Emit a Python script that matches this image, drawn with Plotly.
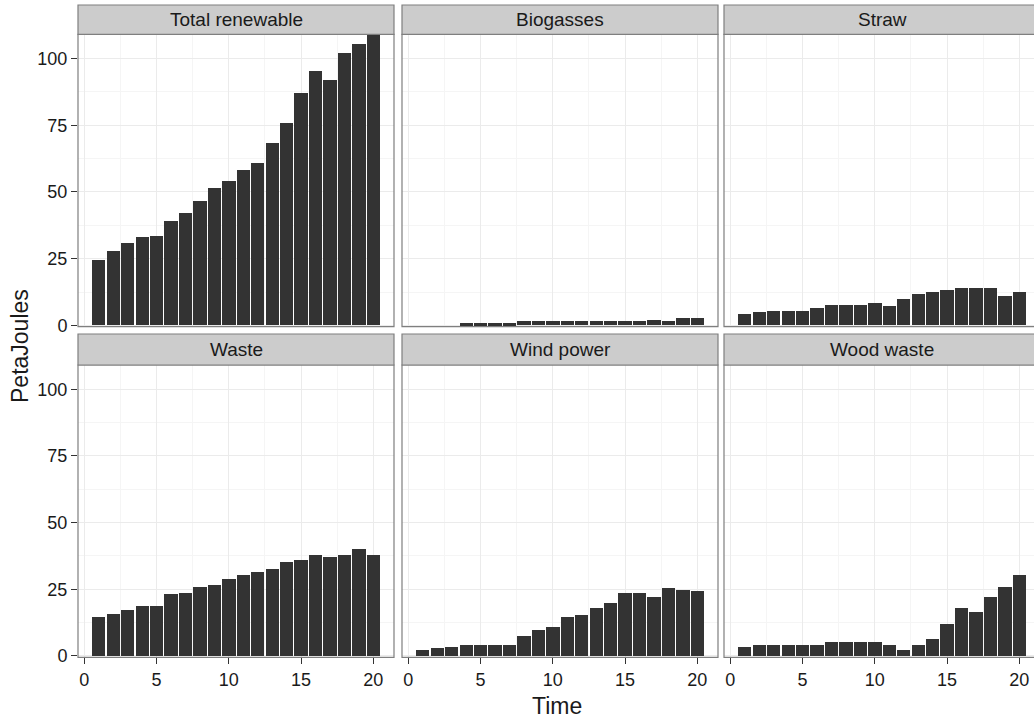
import plotly.graph_objects as go

W, H = 1034, 725

time = list(range(1, 21))
facets = ["Total renewable", "Biogasses", "Straw", "Waste", "Wind power", "Wood waste"]

total_renewable = [24.5, 27.9, 30.8, 33.1, 33.5, 39.1, 42.0, 46.4, 51.5, 54.1,
                   58.3, 60.9, 68.4, 75.9, 86.8, 95.1, 91.8, 101.8, 105.5, 108.6]
biogasses_time = list(range(4, 21))
biogasses = [0.6, 0.6, 0.6, 0.6, 1.4, 1.4, 1.4, 1.4, 1.4, 1.4, 1.4, 1.4, 1.4,
             1.75, 1.4, 2.75, 2.75]
straw = [4.0, 4.75, 5.1, 5.1, 5.1, 6.25, 7.4, 7.4, 7.4, 8.1,
         7.0, 9.6, 11.5, 12.25, 13.0, 13.75, 13.75, 13.75, 10.75, 12.25]
waste = [14.8, 15.8, 17.4, 18.9, 18.9, 23.4, 23.6, 26.0, 26.7, 29.0,
         30.5, 31.6, 32.7, 35.3, 36.0, 37.9, 37.2, 37.9, 40.2, 37.9]
wind_power = [2.1, 2.85, 3.35, 4.0, 4.0, 4.3, 4.3, 7.4, 9.9, 11.0,
              14.7, 15.5, 17.8, 19.9, 23.6, 23.6, 22.2, 25.5, 24.9, 24.4]
wood_waste = [3.2, 4.0, 4.3, 4.3, 4.3, 4.3, 5.1, 5.1, 5.3, 5.1,
              4.3, 2.1, 4.3, 6.2, 12.1, 17.8, 16.6, 22.2, 25.9, 30.3]

series_x = [time, biogasses_time, time, time, time, time]
series_y = [total_renewable, biogasses, straw, waste, wind_power, wood_waste]

x_ticks = [0, 5, 10, 15, 20]
y_ticks = [0, 25, 50, 75, 100]

# layout in screen pixels
col_px = [(78, 394), (402, 718), (724, 1034)]
row_px = [(34.3, 326.7), (365, 657.3)]      # panel top/bottom (from top)
strip_px = [(5, 34.3), (334, 365)]
px_per_unit = 14.45


def px(xs):
    return xs / W


def py(ys):
    return 1 - ys / H


BORDER = "#7F7F7F"
FONT = "Liberation Sans, Arial, sans-serif"
TXT = "#1a1a1a"

fig = go.Figure()
shapes = []
annotations = []

for i, name in enumerate(facets):
    r, c = divmod(i, 3)
    n = i + 1
    xa = "x" if n == 1 else f"x{n}"
    ya = "y" if n == 1 else f"y{n}"
    fig.add_trace(go.Bar(
        x=series_x[i], y=series_y[i], width=0.92,
        marker=dict(color="#333333", line=dict(width=0)),
        xaxis=xa, yaxis=ya, showlegend=False,
    ))
    x0, x1 = col_px[c]
    top, bot = row_px[r]
    xmin = -0.44
    xmax = xmin + (x1 - x0) / px_per_unit
    xkey = "xaxis" if n == 1 else f"xaxis{n}"
    ykey = "yaxis" if n == 1 else f"yaxis{n}"
    bottom_row = r == 1
    first_col = c == 0
    fig.layout[xkey] = dict(
        domain=[px(x0), px(x1)], anchor=ya, range=[xmin, xmax], automargin=False,
        tickvals=x_ticks, showgrid=True, gridcolor="#EBEBEB", gridwidth=1,
        minor=dict(dtick=2.5, tick0=0, showgrid=True, gridcolor="#F5F5F5", gridwidth=1),
        zeroline=False, showline=False,
        showticklabels=bottom_row, ticks="outside" if bottom_row else "",
        ticklen=6, tickcolor="#333333", tickwidth=1,
        tickfont=dict(family=FONT, size=18, color=TXT),
    )
    fig.layout[ykey] = dict(
        domain=[py(bot), py(top)], anchor=xa, range=[-0.5, 109.1], automargin=False,
        tickvals=y_ticks, showgrid=True, gridcolor="#EBEBEB", gridwidth=1,
        minor=dict(dtick=12.5, tick0=0, showgrid=True, gridcolor="#F5F5F5", gridwidth=1),
        zeroline=False, showline=False,
        showticklabels=first_col, ticks="outside" if first_col else "",
        ticklen=6, tickcolor="#333333", tickwidth=1,
        tickfont=dict(family=FONT, size=18, color=TXT),
    )
    # panel border
    shapes.append(dict(type="rect", xref="paper", yref="paper",
                       x0=px(x0), x1=px(x1 + (6 if c == 2 else 0)), y0=py(bot), y1=py(top),
                       line=dict(color=BORDER, width=1.2), fillcolor="rgba(0,0,0,0)",
                       layer="above"))
    # strip
    s0, s1 = strip_px[r]
    shapes.append(dict(type="rect", xref="paper", yref="paper",
                       x0=px(x0), x1=px(x1 + (6 if c == 2 else 0)), y0=py(s1), y1=py(s0),
                       line=dict(color=BORDER, width=1.2), fillcolor="#CCCCCC",
                       layer="above"))
    full_x1 = x0 + 316
    annotations.append(dict(xref="paper", yref="paper",
                            x=px((x0 + full_x1) / 2), y=py((s0 + s1) / 2),
                            text=name, showarrow=False, xanchor="center", yanchor="middle",
                            font=dict(family=FONT, size=19, color=TXT)))

annotations.append(dict(xref="paper", yref="paper", x=px(20), y=py(346),
                        text="PetaJoules", textangle=-90, showarrow=False,
                        xanchor="center", yanchor="middle",
                        font=dict(family=FONT, size=23, color=TXT)))
annotations.append(dict(xref="paper", yref="paper", x=px(557), y=py(706),
                        text="Time", showarrow=False,
                        xanchor="center", yanchor="middle",
                        font=dict(family=FONT, size=23, color=TXT)))

fig.update_layout(
    width=W, height=H, margin=dict(l=0, r=0, t=0, b=0, autoexpand=False),
    paper_bgcolor="white", plot_bgcolor="white",
    shapes=shapes, annotations=annotations, bargap=0,
)

fig.write_html(
    "out.html",
    config={"displayModeBar": False},
    post_script="document.documentElement.style.overflow='hidden';"
                "document.body.style.margin='0';document.body.style.overflow='hidden';",
)
